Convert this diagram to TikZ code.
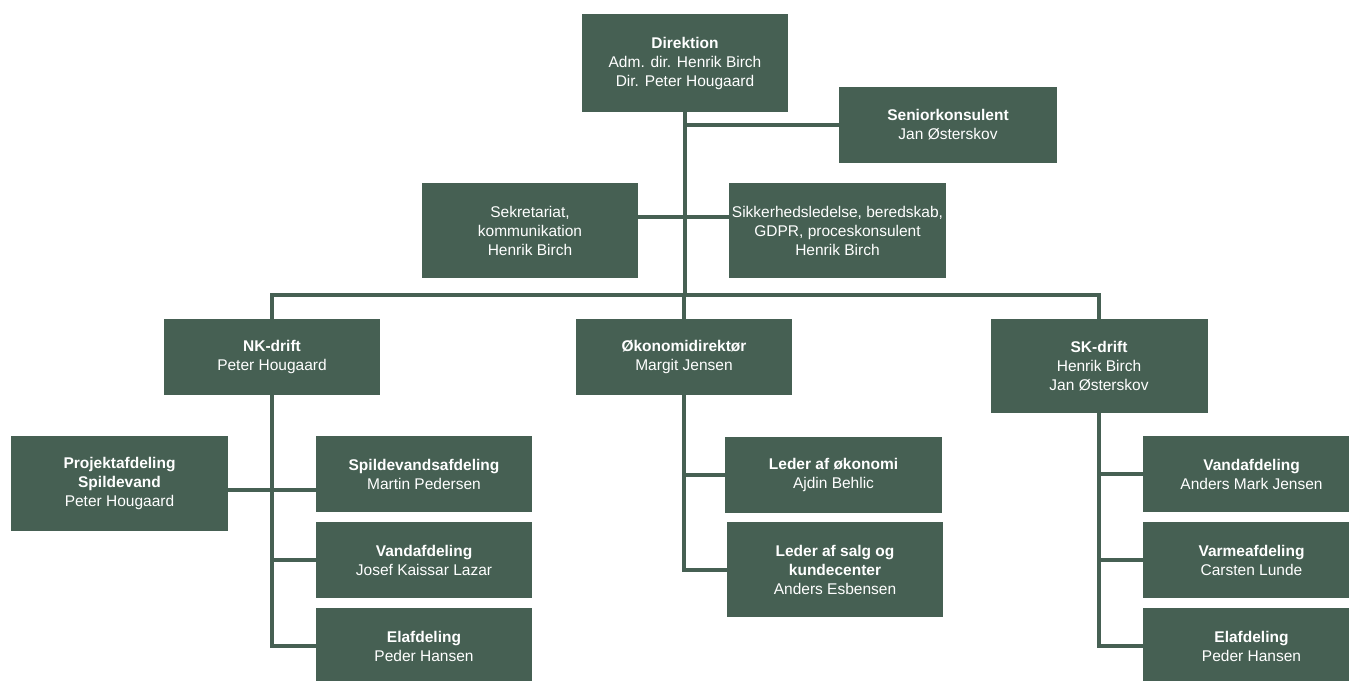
\documentclass[tikz,border=0pt]{standalone}
\usepackage{fontspec}
\setmainfont{Liberation Sans}
\definecolor{orggreen}{RGB}{70,96,83}

\begin{document}
\begin{tikzpicture}
[x=1pt,y=-1pt,
unit/.style={fill=orggreen, text=white, align=center, inner sep=0pt,
  font=\fontsize{15.5}{19}\selectfont, minimum width=216pt, minimum height=76pt},
tall/.style={unit, minimum height=95pt},
link/.style={draw=orggreen, line width=4pt}]
  \useasboundingbox (0,0) rectangle (1349,680);
  % top
  \node [unit, minimum width=206pt, minimum height=98pt] (dir) at (685,63)
    {\textbf{Direktion}\\Adm. dir. Henrik Birch\\Dir. Peter Hougaard};
  \node [unit, minimum width=218pt] (senior) at (948,125)
    {\textbf{Seniorkonsulent}\\Jan Østerskov};
  \node [tall] (sek) at (530,230.5) {Sekretariat,\\kommunikation\\Henrik Birch};
  \node [tall, minimum width=217pt] (sik) at (837.5,230.5)
    {Sikkerhedsledelse, beredskab,\\GDPR, proceskonsulent\\Henrik Birch};
  % middle row
  \node [unit] (nk) at (272,357) {\textbf{NK-drift}\\Peter Hougaard};
  \node [unit] (oko) at (684,357) {\textbf{Økonomidirektør}\\Margit Jensen};
  \node [tall, minimum width=217pt, minimum height=94pt] (sk) at (1099,366)
    {\textbf{SK-drift}\\Henrik Birch\\Jan Østerskov};
  % NK-drift
  \node [tall, minimum width=217pt] (proj) at (119.5,483.5)
    {\textbf{Projektafdeling}\\\textbf{Spildevand}\\Peter Hougaard};
  \node [unit] (spv) at (424,474) {\textbf{Spildevandsafdeling}\\Martin Pedersen};
  \node [unit] (nkvand) at (424,560) {\textbf{Vandafdeling}\\Josef Kaissar Lazar};
  \node [unit] (nkel) at (424,646) {\textbf{Elafdeling}\\Peder Hansen};
  % okonomi
  \node [unit, minimum width=217pt] (leder) at (833.5,475)
    {\textbf{Leder af økonomi}\\Ajdin Behlic};
  \node [tall] (salg) at (835,569.5)
    {\textbf{Leder af salg og}\\\textbf{kundecenter}\\Anders Esbensen};
  % SK-drift
  \node [unit, minimum width=217pt] (skvand) at (1251.5,474)
    {\textbf{Vandafdeling}\\Anders Mark Jensen};
  \node [unit, minimum width=217pt] (varme) at (1251.5,560)
    {\textbf{Varmeafdeling}\\Carsten Lunde};
  \node [unit, minimum width=217pt] (skel) at (1251.5,646)
    {\textbf{Elafdeling}\\Peder Hansen};

  \coordinate (bar) at (685,295);
  \draw [link] (dir.south) -- (bar);
  \draw [link] (senior.west) -| (dir.south);
  \draw [link] ([yshift=14pt]sek.east) -- ([yshift=14pt]sik.west);
  \draw [link] (nk.north) |- (bar) -| (sk.north);
  \draw [link] (oko.north) -- (oko.north |- bar);

  \coordinate (nkfork) at ([yshift=-6.5pt]proj.east);
  \draw [link] (nkfork) -- (nkfork -| spv.west);
  \draw [link] (nk.south) |- (nkvand.west);
  \draw [link] (nk.south) |- (nkel.west);

  \draw [link] (oko.south) |- (leder.west);
  \draw [link] (oko.south) |- (salg.west);

  \draw [link] (sk.south) |- (skvand.west);
  \draw [link] (sk.south) |- (varme.west);
  \draw [link] (sk.south) |- (skel.west);
\end{tikzpicture}
\end{document}
